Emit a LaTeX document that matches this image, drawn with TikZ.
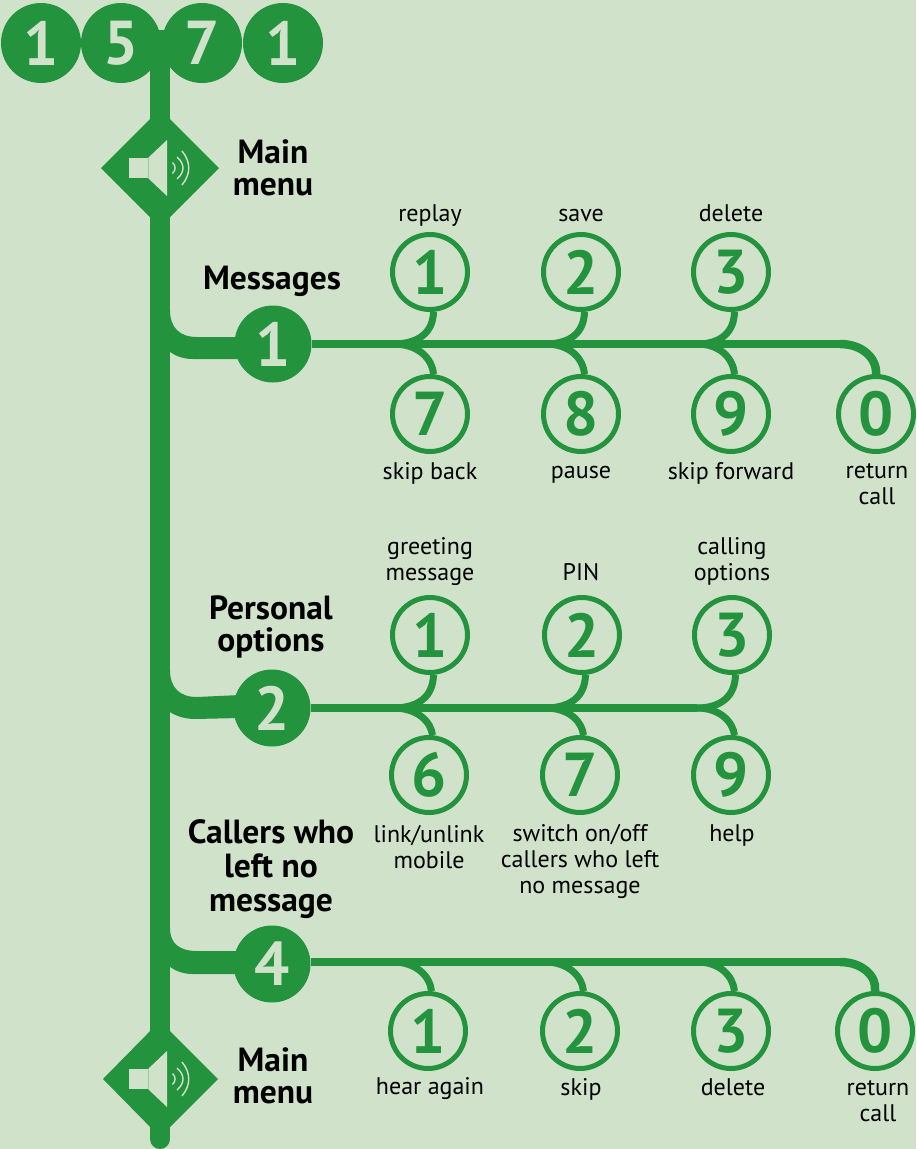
\documentclass[tikz,border=0pt]{standalone}
\usepackage{fontspec}
\setmainfont{PT Sans}
\definecolor{bgc}{HTML}{D1E2CB}
\definecolor{grn}{HTML}{23933E}
\newcommand{\speaker}[3]{%
  \begin{scope}[shift={(#1,#2)},scale=#3]
  \fill[bgc] (-31,-10) rectangle (-12,10);
  \fill[bgc] (-12,-10) -- (7,-28) -- (7,28) -- (-12,10) -- cycle;
  \draw[bgc!70!grn,line width=0.5pt] (-12,-10) -- (-12,10);
  \draw[bgc,line width=1.4pt] (12.5,-5.5) .. controls (16,-2) and (16,2) .. (12.5,5.5);
  \draw[bgc,line width=1.4pt] (17,-11) .. controls (25,-4) and (25,4) .. (17,11);
  \draw[bgc,line width=1.4pt] (22,-17) .. controls (31,-6) and (31,6) .. (22,17);
  \end{scope}}
\tikzset{
  x=1pt,y=-1pt,
  solid/.style={circle,fill=grn,text=bgc,minimum size=77pt,inner sep=0pt,font=\fontsize{62}{62}\bfseries\selectfont},
  head/.style={circle,fill=grn,text=bgc,minimum size=80pt,inner sep=0pt,font=\fontsize{62}{62}\bfseries\selectfont},
  ring/.style={circle,draw=grn,line width=5pt,text=grn,minimum size=75pt,inner sep=0pt,font=\fontsize{62}{62}\bfseries\selectfont},
  lab/.style={align=center,text=black,font=\fontsize{24}{26}\selectfont},
  ttl/.style={align=center,text=black,font=\fontsize{33.5}{32}\bfseries\selectfont},
  trunk/.style={draw=grn,line width=20pt},
  wire/.style={draw=grn,line width=8.5pt},
  twig/.style={draw=grn,line width=7pt},
  endtwig/.style={draw=grn,line width=8.5pt},
  dia/.style={fill=grn},
}
\begin{document}
\begin{tikzpicture}
\useasboundingbox[fill=bgc] (0,0) rectangle (916,1149);
% top number
\coordinate (trunkTop) at (160,30);
\coordinate (trunkEnd) at (160,1139);
\draw[trunk] (trunkTop) -- (trunkEnd);
\fill[grn] (trunkEnd) circle[radius=10];
\node[head] (h1) at (41,43) {1};
\node[head] (h2) at (121,43) {5};
\node[head] (h3) at (202,43) {7};
\node[head] (h4) at (283,43) {1};
\fill[grn] (150,30) rectangle (170,80);
% main menu
\fill[dia] (101,168) -- (160,109) -- (219,168) -- (160,227) -- cycle;
\speaker{160}{168}{1}
\node[ttl] (mm1) at (273,168) {Main\\menu};
\fill[dia] (103,1079) -- (160,1021) -- (218,1079) -- (160,1137) -- cycle;
\speaker{160}{1079}{1}
\node[ttl] (mm2) at (273,1076) {Main\\menu};
% branches
\fill[grn] (165,250) -- (170,310) .. controls (170,328) and (180,337) .. (197,337) -- (240,337) -- (240,359) -- (193,359) .. controls (183,359) and (176,356) .. (170,352) -- (165,352) -- cycle;
\fill[grn] (165,640) -- (170,670) .. controls (170,688) and (180,697) .. (197,697) -- (240,695) -- (240,718) -- (195,719) .. controls (185,719) and (176,716) .. (170,712) -- (165,712) -- cycle;
\fill[grn] (165,900) -- (170,928) .. controls (170,944) and (180,951) .. (197,951) -- (240,951) -- (240,974) -- (193,974) .. controls (183,974) and (176,971) .. (170,967) -- (165,967) -- cycle;
\node[solid] (m1) at (273,344) {1};
\node[solid] (m2) at (272,708) {2};
\node[solid] (m4) at (272,964) {4};
\node[ttl] (t1) at (272,281.5) {Messages};
\node[ttl] (t2) at (271,627) {Personal\\options};
\node[ttl] (t4) at (271,869) {Callers who\\[2pt]left no\\[2pt]message};
% row 1
\node[ring] (a1) at (430,272) {1};
\node[ring] (a2) at (581,272) {2};
\node[ring] (a3) at (731,272) {3};
\node[ring] (a7) at (430,414) {7};
\node[ring] (a8) at (581,414) {8};
\node[ring] (a9) at (731,414) {9};
\node[ring] (a0) at (876,414) {0};
\coordinate (ja1) at (393,344);
\coordinate (ja2) at (545,344);
\coordinate (ja3) at (697,344);
\coordinate (ja0) at (840,344);
\draw[wire] (m1) -- (ja0);
\draw[endtwig] (ja0) .. controls (862,344) and (877,358) .. (a0.north);
\draw[twig] (ja1) .. controls (418,344) and (433,333) .. (a1.-85);
\draw[twig] (ja1) .. controls (418,344) and (432,358) .. (a7.85);
\draw[twig] (ja2) .. controls (570,344) and (584,333) .. (a2.-85);
\draw[twig] (ja2) .. controls (570,344) and (583,358) .. (a8.85);
\draw[twig] (ja3) .. controls (720,344) and (734,333) .. (a3.-85);
\draw[twig] (ja3) .. controls (720,344) and (733,358) .. (a9.85);
% row 2
\node[ring] (b1) at (430,635) {1};
\node[ring] (b2) at (582,635) {2};
\node[ring] (b3) at (732,635) {3};
\node[ring] (b6) at (429,775) {6};
\node[ring] (b7) at (580,775) {7};
\node[ring] (b9) at (731,775) {9};
\coordinate (jb1) at (393,708);
\coordinate (jb2) at (545,708);
\coordinate (jb3) at (697,708);
\draw[wire] (m2) -- (jb3);
\draw[twig] (jb1) .. controls (418,708) and (433,697) .. (b1.-85);
\draw[twig] (jb1) .. controls (418,708) and (431,722) .. (b6.85);
\draw[twig] (jb2) .. controls (570,708) and (585,697) .. (b2.-85);
\draw[twig] (jb2) .. controls (570,708) and (582,722) .. (b7.85);
\draw[twig] (jb3) .. controls (720,708) and (735,697) .. (b3.-85);
\draw[twig] (jb3) .. controls (720,708) and (733,722) .. (b9.85);
% row 3
\node[ring] (c1) at (428,1031) {1};
\node[ring] (c2) at (580,1031) {2};
\node[ring] (c3) at (731,1031) {3};
\node[ring] (c0) at (875,1031) {0};
\coordinate (jc1) at (393,962);
\coordinate (jc2) at (545,962);
\coordinate (jc3) at (697,962);
\coordinate (jc0) at (840,962);
\draw[wire] (m4.east |- jc0) -- (jc0);
\draw[endtwig] (jc0) .. controls (862,962) and (877,976) .. (c0.north);
\draw[twig] (jc1) .. controls (416,962) and (430,976) .. (c1.85);
\draw[twig] (jc2) .. controls (568,962) and (582,976) .. (c2.85);
\draw[twig] (jc3) .. controls (720,962) and (733,976) .. (c3.85);
% labels
\node[lab] (l1) at (430,216) {replay};
\node[lab] (l2) at (581,215) {save};
\node[lab] (l3) at (731,213) {delete};
\node[lab] (l4) at (430,473) {skip back};
\node[lab] (l5) at (581,475) {pause};
\node[lab] (l6) at (731,473) {skip forward};
\node[lab] (l7) at (877,484) {return\\call};
\node[lab] (l8) at (430,562) {greeting\\message};
\node[lab] (l9) at (581,572) {PIN};
\node[lab] (l10) at (732,561) {calling\\options};
\node[lab] (l11) at (429,847) {link/unlink\\mobile};
\node[lab] (l12) at (580,861) {switch on/off\\callers who left\\no message};
\node[lab] (l13) at (732,835) {help};
\node[lab] (l14) at (430,1089) {hear again};
\node[lab] (l15) at (581,1089) {skip};
\node[lab] (l16) at (733,1087) {delete};
\node[lab] (l17) at (878,1101) {return\\call};
\end{tikzpicture}
\end{document}
